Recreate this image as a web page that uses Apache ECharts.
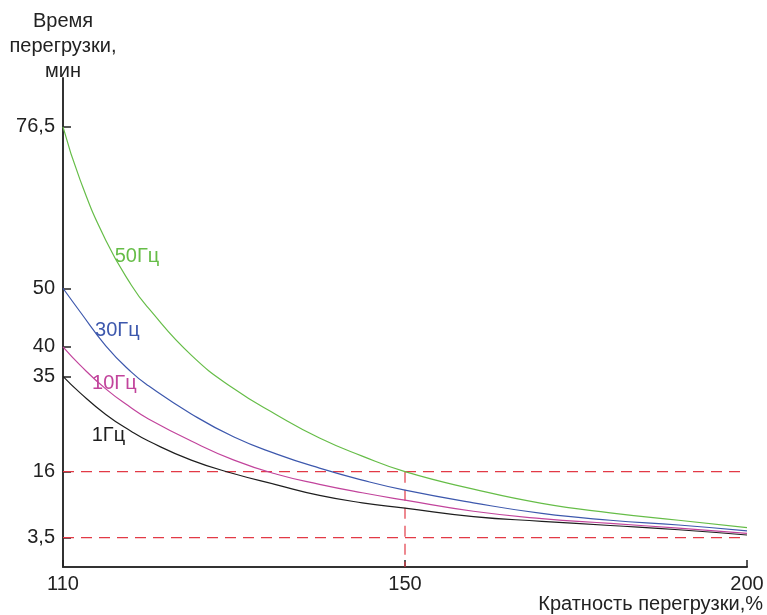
<!DOCTYPE html>
<html>
<head>
<meta charset="utf-8">
<script src="https://cdn.jsdelivr.net/npm/echarts@6/dist/echarts.min.js"></script>
<style>
    html, body { margin: 0; padding: 0; background: #fff; }
    #chart { width: 767px; height: 615px; }
</style>
</head>
<body>
<div id="chart"></div>
<script>
// Кратность перегрузки, %
var loadPct = [110, 112, 115, 118, 120, 125, 130, 135, 140, 145, 150, 160, 170, 180, 190, 200];

// Время перегрузки, мин (по кривым)
var time1Hz  = [35, 31.7, 27.4, 24.0, 22.1, 18.3, 15.6, 13.5, 11.5, 10.1, 9.1, 7.5, 6.6, 5.8, 5.0, 4.0];
var time10Hz = [40, 36.9, 32.5, 28.7, 26.5, 22.1, 18.3, 15.5, 13.6, 12.0, 10.6, 8.5, 7.1, 6.2, 5.3, 4.3];
var time30Hz = [50, 46.0, 40.2, 35.7, 33.1, 27.5, 22.9, 19.5, 16.7, 14.4, 12.5, 10.1, 8.1, 6.8, 5.9, 4.8];
var time50Hz = [76.5, 67.8, 57.9, 50.5, 46.6, 38.6, 32.5, 27.3, 22.7, 19.1, 16, 12.7, 10.0, 8.2, 6.8, 5.4];

// подписи осей
var xTicks = [110, 150, 200];
var xTickLabels = ['110', '150', '200'];
var yTicks = [3.5, 16, 35, 40, 50, 76.5];
var yTickLabels = ['3,5', '16', '35', '40', '50', '76,5'];

// пунктирные линии отсчёта
var refTimes = [16, 3.5];
var refLoad = 150;

// шкалы на рисунке не линейные: каждое деление стоит на своей позиции (0..100 по оси)
var xTickPos = [0, 50, 100];
var yTickPos = [6, 19.5, 39, 45, 57, 90];

// кусочно-линейное отображение значения в позицию на оси
function piecewise(v, src, dst) {
    var i = 0;
    while (i < src.length - 2 && v > src[i + 1]) {
        i++;
    }
    var t = (v - src[i]) / (src[i + 1] - src[i]);
    return dst[i] + t * (dst[i + 1] - dst[i]);
}
function xPos(v) { return piecewise(v, xTicks, xTickPos); }
function yPos(v) { return piecewise(v, yTicks, yTickPos); }

function toPoints(times) {
    return loadPct.map(function (x, i) {
        return [xPos(x), yPos(times[i])];
    });
}

var textColor = '#222';
var fontFamily = 'Liberation Sans, Arial, sans-serif';
var refColor = '#e23a46';

function curve(name, times, color, labelIdx, labelOffset) {
    return {
        name: name,
        type: 'line',
        data: toPoints(times),
        smooth: true,
        showSymbol: false,
        silent: true,
        z: 3,
        lineStyle: { color: color, width: 1.2 },
        itemStyle: { color: color },
        markPoint: {
            silent: true,
            symbol: 'circle',
            symbolSize: 0,
            label: {
                show: true,
                position: 'right',
                distance: 0,
                offset: labelOffset,
                formatter: name,
                color: color,
                fontSize: 20,
                fontFamily: fontFamily
            },
            data: [{ coord: [xPos(loadPct[labelIdx]), yPos(times[labelIdx])] }]
        }
    };
}

// пунктир: отдельные серии-отрезки
function refSeries(points) {
    return {
        type: 'line',
        data: points,
        showSymbol: false,
        silent: true,
        z: 2,
        lineStyle: { color: refColor, width: 1.2, type: [11, 7] },
        itemStyle: { color: refColor }
    };
}

var refList = [];
refTimes.forEach(function (t) {
    refList.push(refSeries([
        [xPos(xTicks[0]), yPos(t)],
        [xPos(xTicks[xTicks.length - 1]), yPos(t)]
    ]));
});
refList.push(refSeries([
    [xPos(refLoad), yPos(refTimes[0])],
    [xPos(refLoad), 0]
]));

var chart = echarts.init(document.getElementById('chart'));

chart.setOption({
    animation: false,
    backgroundColor: '#fff',
    grid: { left: 63, right: 20, top: 78, bottom: 48, containLabel: false, outerBoundsMode: 'none' },
    xAxis: {
        type: 'value',
        min: 0,
        max: 100,
        name: 'Кратность перегрузки,%',
        nameLocation: 'end',
        nameGap: 16,
        nameTextStyle: {
            color: textColor, fontSize: 20, fontFamily: fontFamily,
            align: 'right', verticalAlign: 'top', padding: [27, 0, 0, 0]
        },
        axisLine: { lineStyle: { color: '#333', width: 2 } },
        axisTick: { inside: true, length: 7, customValues: xTickPos, lineStyle: { color: '#222', width: 1.5 } },
        axisLabel: {
            customValues: xTickPos,
            margin: 7,
            color: textColor, fontSize: 20, fontFamily: fontFamily,
            formatter: function (v) {
                var i = xTickPos.indexOf(v);
                return i >= 0 ? xTickLabels[i] : '';
            }
        },
        splitLine: { show: false }
    },
    yAxis: {
        type: 'value',
        min: 0,
        max: 100,
        name: 'Время\nперегрузки,\nмин',
        nameLocation: 'end',
        nameGap: -6,
        nameTextStyle: {
            color: textColor, fontSize: 20, fontFamily: fontFamily,
            align: 'center', lineHeight: 25
        },
        axisLine: { show: true, lineStyle: { color: '#333', width: 2 } },
        axisTick: { show: true, inside: true, length: 8, customValues: yTickPos, lineStyle: { color: '#222', width: 1.5 } },
        axisLabel: {
            customValues: yTickPos,
            margin: 8,
            color: textColor, fontSize: 20, fontFamily: fontFamily,
            formatter: function (v) {
                var i = yTickPos.indexOf(v);
                return i >= 0 ? yTickLabels[i] : '';
            }
        },
        splitLine: { show: false }
    },
    series: refList.concat([
        curve('50Гц', time50Hz, '#66bd48', 2, [9, 16]),
        curve('30Гц', time30Hz, '#3d58ad', 1, [15, 19]),
        curve('10Гц', time10Hz, '#c2449c', 1, [12, 18]),
        curve('1Гц', time1Hz, '#1e1e1e', 2, [-14, 21])
    ])
});
</script>
</body>
</html>
